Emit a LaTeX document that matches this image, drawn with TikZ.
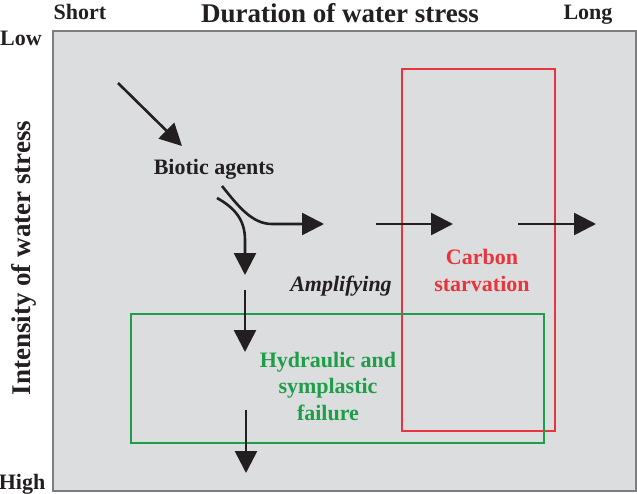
\documentclass[tikz,border=0pt]{standalone}
\usepackage{fontspec}
\setmainfont{Liberation Serif}
\usetikzlibrary{arrows.meta}
\definecolor{panelgray}{HTML}{DCDDDF}
\definecolor{edgegray}{HTML}{7D7E80}
\definecolor{starvred}{HTML}{E8343C}
\definecolor{failgreen}{HTML}{1E9E48}
\definecolor{inkblack}{HTML}{231F20}
\newcommand{\diagfont}{\fontsize{22}{26.5}\selectfont\bfseries}
\newcommand{\axisfont}{\fontsize{27}{30}\selectfont\bfseries}

\begin{document}
\begin{tikzpicture}[x=1pt,y=-1pt, inkblack,
    txt/.style={font=\diagfont,anchor=base,align=center},
    axis/.style={font=\axisfont,anchor=base},
    flow/.style={line width=2.6pt,-{Triangle[length=22pt,width=22pt]}},
    zone/.style={line width=2.3pt}]
\useasboundingbox (0,0) rectangle (637,493);
\draw[edgegray,line width=1.5pt,fill=panelgray] (53,31) rectangle (636,491);

\draw[zone,starvred] (402,69) rectangle (555,431);
\draw[zone,failgreen] (131,314) rectangle (544,443);

\node[txt] (short) at (80,19) {Short};
\node[axis] (dur) at (340,22) {Duration of water stress};
\node[txt] (long) at (588,19) {Long};
\node[txt] (low) at (21,45) {Low};
\node[txt] (high) at (22,489) {High};
\node[axis,rotate=90] (int) at (30,258) {Intensity of water stress};

\node[txt] (bio) at (214,174) {Biotic agents};
\node[txt,font=\diagfont\itshape] (amp) at (341,291) {Amplifying};
\node[txt,starvred] (carb) at (482,291) {Carbon\\starvation};
\node[txt,failgreen] (hyd) at (328,420) {Hydraulic and\\symplastic\\failure};

\coordinate (inA) at (118,83);
\coordinate (inB) at (182,146);
\coordinate (splitR) at (222,186);
\coordinate (bendR) at (272,224);
\coordinate (tipR) at (324,224);
\coordinate (splitD) at (217,198);
\coordinate (bendD) at (245,240);
\coordinate (tipD) at (245,275);
\coordinate (d1a) at (245,290);
\coordinate (d1b) at (245,352);
\coordinate (d2a) at (246,410);
\coordinate (d2b) at (246,473);
\coordinate (h1a) at (376,224);
\coordinate (h1b) at (453,224);
\coordinate (h2a) at (518,224);
\coordinate (h2b) at (596,224);

\draw[flow] (inA) -- (inB);
\draw[flow] (splitR) .. controls +(16,20) and +(-20,0) .. (bendR) -- (tipR);
\draw[flow] (splitD) .. controls +(18,10) and +(0,-20) .. (bendD) -- (tipD);
\draw[flow] (d1a) -- (d1b);
\draw[flow] (d2a) -- (d2b);
\draw[flow] (h1a) -- (h1b);
\draw[flow] (h2a) -- (h2b);
\end{tikzpicture}
\end{document}
